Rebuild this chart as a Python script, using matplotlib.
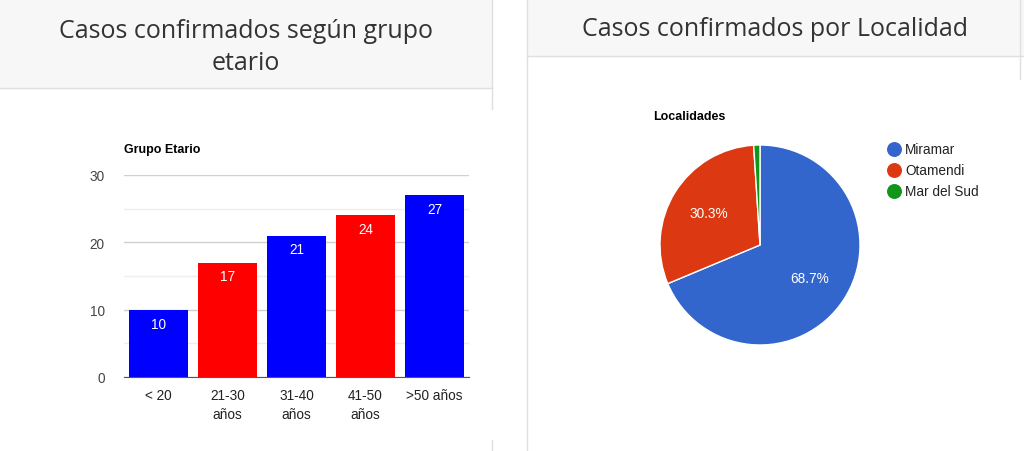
import numpy as np
import matplotlib
matplotlib.use("Agg")
import matplotlib.pyplot as plt
from matplotlib.patches import Rectangle

# ── data ────────────────────────────────────
grupos      = ["< 20", "21-30\naños", "31-40\naños", "41-50\naños", ">50 años"]
casos_grupo = [10, 17, 21, 24, 27]
colores_bar = ["#0000ff", "#ff0000", "#0000ff", "#ff0000", "#0000ff"]

localidades  = ["Miramar", "Otamendi", "Mar del Sud"]
casos_local  = [68, 30, 1]
colores_pie  = ["#3366cc", "#dc3912", "#109618"]

W, H = 1024, 452
TXT = "#333333"
plt.rcParams["font.family"] = ["Liberation Sans", "DejaVu Sans"]

fig = plt.figure(figsize=(W / 100, H / 100), dpi=100, facecolor="white")


def px_axes(x0, y0, x1, y1):
    # pixel box (top-left origin) -> figure axes
    return fig.add_axes([x0 / W, 1 - y1 / H, (x1 - x0) / W, (y1 - y0) / H])


# ── background cards / headers ──────────────
bg = fig.add_axes([0, 0, 1, 1])
bg.set_xlim(0, W); bg.set_ylim(H, 0); bg.axis("off")
bg.add_patch(Rectangle((0, 0), 492, 89, facecolor="#f7f7f7", edgecolor="none"))
bg.add_patch(Rectangle((527, 0), 497, 57, facecolor="#f7f7f7", edgecolor="none"))
line_c = "#dfdfdf"
bg.plot([0, 492], [89, 89], color=line_c, lw=1)
bg.plot([492, 492], [0, 110], color=line_c, lw=1)
bg.plot([492, 492], [441, 452], color=line_c, lw=1)
bg.plot([527, 1024], [57, 57], color=line_c, lw=1)
bg.plot([527, 527], [0, 452], color=line_c, lw=1)
bg.plot([1020, 1020], [0, 80], color=line_c, lw=1)

title_font = ["Open Sans", "DejaVu Sans"]
bg.text(246, 31, "Casos confirmados según grupo", ha="center", va="center",
        fontsize=18, color=TXT, family=title_font)
bg.text(246, 63, "etario", ha="center", va="center",
        fontsize=18, color=TXT, family=title_font)
bg.text(775, 30, "Casos confirmados por Localidad", ha="center", va="center",
        fontsize=18, color=TXT, family=title_font)

# ── bar chart ───────────────────────────────
ax = px_axes(124, 176, 469, 378)
x = np.arange(len(grupos))
bars = ax.bar(x, casos_grupo, width=0.855, color=colores_bar, zorder=2)
ax.set_xlim(-0.5, len(grupos) - 0.5)
ax.set_ylim(0, 30)
ax.set_yticks([0, 10, 20, 30])
ax.set_yticks([5, 15, 25], minor=True)
ax.grid(axis="y", which="major", color="#d0d0d0", lw=1, zorder=0)
ax.grid(axis="y", which="minor", color="#eeeeee", lw=1, zorder=0)
ax.set_xticks(x)
ax.set_xticklabels(grupos, fontsize=9.8, color="#222222", linespacing=1.4)
ax.tick_params(axis="y", labelsize=9.8, labelcolor="#444444", length=0, pad=14)
ax.tick_params(axis="y", which="minor", length=0)
ax.tick_params(axis="x", length=0, pad=8)
for s in ["top", "right", "left"]:
    ax.spines[s].set_visible(False)
ax.spines["bottom"].set_color("#555555")
ax.spines["bottom"].set_zorder(3)
for b, v in zip(bars, casos_grupo):
    ax.annotate(str(v), (b.get_x() + b.get_width() / 2, v), xytext=(0, -10),
                textcoords="offset points", ha="center", va="center",
                color="white", fontsize=9.8, zorder=4)
ax.text(0, 1.13, "Grupo Etario", transform=ax.transAxes, ha="left",
        va="center", fontsize=9, fontweight="bold", color="black")

# ── pie chart ───────────────────────────────
pa = px_axes(659, 145, 861, 347)


def pct_label(p):
    return f"{p:.1f}%" if p >= 5 else ""


wedges, texts, autotexts = pa.pie(
    casos_local, colors=colores_pie, startangle=90, counterclock=False,
    autopct=pct_label, pctdistance=0.6, radius=1,
    wedgeprops=dict(edgecolor="white", linewidth=1),
    textprops=dict(color="white", fontsize=9.8))
pa.set_xlim(-1.01, 1.01); pa.set_ylim(-1.01, 1.01)
pa.set_aspect("auto")
pa.axis("off")

bg.text(653, 117, "Localidades", ha="left", va="center", fontsize=9,
        fontweight="bold", color="black")
for i, (nm, c) in enumerate(zip(localidades, colores_pie)):
    yy = 150 + i * 21
    bg.scatter([894], [yy], s=95, color=c, zorder=3)
    bg.text(905, yy, nm, ha="left", va="center", fontsize=9.8, color="#222222")

fig.savefig("out.png", dpi=100, facecolor="white")
